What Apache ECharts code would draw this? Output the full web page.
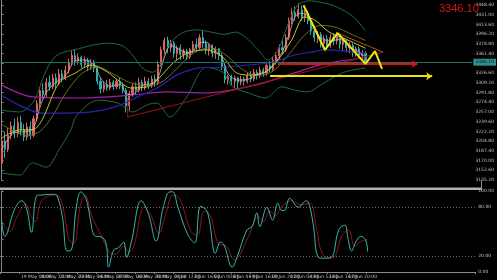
<!DOCTYPE html>
<html><head><meta charset="utf-8">
<script src="https://cdn.jsdelivr.net/npm/echarts@6/dist/echarts.min.js"></script>
<style>html,body{margin:0;padding:0;background:#000;}#c{width:497px;height:280px;}</style>
</head><body><div id="c"></div>
<script>
// ---------- DATA ----------
const slotCount = 148;               // bar slots on the time axis (incl. empty future space)
const lastPrice = 3346.10;
const priceAxis = { min: 3135.2, max: 3457.4, step: 17.4 };

// H4 candles: [open, close, low, high]
const candleOHLC = [
 [3165,3205,3160,3210],[3205,3190,3175,3222],[3190,3215,3185,3228],[3215,3232,3208,3240],
 [3232,3218,3210,3245],[3218,3238,3212,3248],[3238,3225,3215,3250],[3225,3212,3205,3235],
 [3212,3230,3206,3238],[3230,3215,3208,3240],[3215,3245,3212,3250],[3245,3272,3240,3278],
 [3272,3295,3265,3302],[3295,3288,3280,3308],[3288,3310,3284,3318],[3310,3302,3295,3322],
 [3302,3318,3298,3325],[3318,3308,3300,3326],[3308,3325,3305,3334],[3325,3318,3310,3332],
 [3318,3332,3314,3340],[3332,3345,3326,3352],[3345,3358,3340,3366],[3358,3348,3340,3368],
 [3348,3355,3342,3362],[3355,3342,3335,3358],[3342,3350,3336,3356],[3350,3338,3330,3354],
 [3338,3346,3332,3352],[3346,3335,3328,3350],[3335,3312,3306,3340],[3312,3298,3290,3318],
 [3298,3306,3292,3312],[3306,3300,3295,3314],[3300,3310,3296,3316],[3310,3302,3297,3314],
 [3302,3312,3298,3316],[3312,3305,3298,3318],[3305,3296,3290,3310],[3296,3268,3256,3300],
 [3268,3290,3260,3295],[3290,3302,3284,3308],[3302,3296,3288,3310],[3296,3310,3292,3318],
 [3310,3300,3294,3315],[3300,3312,3296,3320],[3312,3304,3298,3318],[3304,3316,3300,3322],
 [3316,3310,3302,3324],[3310,3342,3305,3348],[3342,3368,3338,3374],[3368,3385,3360,3390],
 [3385,3372,3362,3392],[3372,3380,3364,3386],[3380,3362,3354,3384],[3362,3372,3350,3376],
 [3372,3360,3350,3378],[3360,3366,3352,3370],[3366,3356,3350,3370],[3356,3368,3352,3372],
 [3368,3378,3362,3384],[3378,3372,3364,3388],[3372,3390,3368,3396],[3390,3380,3372,3404],
 [3380,3368,3360,3385],[3368,3376,3358,3380],[3376,3362,3355,3378],[3362,3370,3352,3374],
 [3370,3358,3350,3372],[3358,3338,3332,3362],[3338,3315,3308,3342],[3315,3320,3306,3324],
 [3320,3312,3305,3324],[3312,3318,3300,3322],[3318,3310,3298,3320],[3310,3316,3305,3322],
 [3316,3312,3304,3320],[3312,3322,3308,3328],[3322,3316,3310,3330],[3316,3328,3312,3334],
 [3328,3322,3315,3333],[3322,3332,3318,3338],[3332,3326,3320,3336],[3326,3340,3322,3346],
 [3340,3334,3328,3348],[3334,3350,3330,3356],[3350,3358,3342,3364],[3358,3372,3352,3378],
 [3372,3368,3360,3385],[3368,3390,3364,3396],[3390,3420,3386,3426],[3420,3435,3414,3442],
 [3435,3428,3420,3446],[3428,3440,3424,3452],[3440,3426,3420,3448],[3426,3434,3418,3440],
 [3434,3420,3414,3438],[3420,3402,3395,3424],[3402,3390,3382,3408],[3390,3396,3380,3402],
 [3396,3380,3372,3400],[3380,3388,3370,3394],[3388,3376,3368,3395],[3376,3390,3372,3396],
 [3390,3384,3376,3398],[3384,3392,3378,3400],[3392,3378,3370,3396],[3378,3384,3366,3390],
 [3384,3372,3364,3388],[3372,3376,3362,3382],[3376,3364,3356,3380],[3364,3370,3356,3374],
 [3370,3358,3352,3374],[3358,3362,3350,3368],[3362,3346.1,3342,3366]
];

const dayLabels = ["16 May 2025","19 May 08:00","20 May 12:00","21 May 20:00","23 May 04:00",
 "26 May 08:00","27 May 16:00","28 May 20:00","30 May 04:00","2 Jun 12:00","3 Jun 16:00",
 "5 Jun 00:00","6 Jun 08:00","9 Jun 16:00","10 Jun 20:00","12 Jun 04:00","13 Jun 12:00",
 "16 Jun 16:00","17 Jun 20:00","19 Jun 08:00"];

// indicator readings: [bar index, value]
const maFast = [[0,3190],[4,3220],[8,3222],[10,3228],[12,3265],[14,3292],[17,3310],[20,3322],[23,3348],
 [26,3350],[29,3342],[31,3318],[34,3303],[37,3306],[39,3290],[41,3288],[44,3304],[47,3308],[49,3318],
 [51,3355],[53,3376],[56,3368],[59,3362],[62,3380],[64,3382],[67,3366],[69,3355],[71,3325],[74,3314],
 [77,3315],[80,3324],[83,3330],[86,3348],[88,3365],[90,3395],[92,3428],[94,3434],[96,3428],[98,3405],
 [100,3390],[103,3384],[106,3387],[109,3374],[112,3364],[114,3355]];
const maYellow = [[0,3210],[5.7,3225],[9.7,3225],[12.7,3243],[18,3309],[23.2,3327],[28.1,3341],
 [33.3,3328],[36.4,3314],[40.4,3300],[45.7,3302],[48.7,3314],[54,3346],[58.9,3364],[64.1,3368],
 [69.3,3355],[73.3,3328],[77.3,3323],[82.6,3328],[86.6,3350],[90.9,3386],[94.9,3427],[98,3422],
 [102.6,3400],[107.2,3389],[114,3371]];
const bbMid = [[0,3235],[8,3215],[12,3222],[16,3250],[20,3290],[25,3325],[30,3338],[35,3325],[40,3310],
 [45,3305],[50,3310],[55,3335],[60,3362],[65,3372],[70,3360],[75,3335],[80,3322],[85,3330],[90,3360],
 [95,3395],[100,3412],[105,3408],[110,3395],[114,3385]];
const bbUpper = [[0,3260],[5.7,3257],[10.3,3278],[13.3,3323],[16.4,3354],[19.5,3364],[24.1,3370],
 [28.7,3377],[33.3,3380],[38,3375],[41,3359],[44.1,3336],[47.2,3328],[50.3,3346],[52.4,3377],
 [56.4,3398],[61,3404],[65.7,3400],[69.7,3396],[73.3,3400],[76.4,3391],[80.4,3368],[83.5,3350],
 [86.6,3368],[89.7,3413],[92.7,3448],[96.4,3456],[101,3452],[105,3445],[110.3,3427],[114,3402]];
const bbLower = [[0,3148],[5.7,3144],[9.7,3166],[14,3158],[18,3189],[21.7,3225],[23.2,3248],
 [27.2,3271],[30.3,3278],[36.4,3273],[41,3257],[45.7,3270],[48.7,3273],[52.7,3248],[58,3284],
 [64.1,3337],[69.3,3328],[72.4,3302],[77.3,3291],[82.6,3282],[87.8,3302],[91.8,3296],[95.8,3293],
 [101,3309],[107.2,3328],[114,3336]];
const maBlue = [[0,3287],[12.7,3255],[20.1,3255],[28.1,3257],[35.5,3266],[42.6,3284],[48.7,3300],
 [54.9,3323],[62,3336],[69.3,3337],[77.3,3341],[84.7,3346],[91.8,3359],[97,3364],[101,3368],[114,3362]];
const maPurple = [[0,3305],[9.7,3284],[25,3282],[40.4,3287],[51.8,3293],[64.1,3291],[79.5,3305],
 [91.8,3327],[101,3343],[114,3354]];
const redTrend = [[39.5,3283],[39.5,3248],[119.5,3364]];
const wedgeTop = [[105.3,3398],[119.5,3364]];
const zigzag = [[94.6,3448],[101.3,3368],[105.3,3398],[114,3343],[117,3366],[119.2,3334]];
const redArrow = [[86.6,3342.8],[130.3,3342.8]];
const yellowArrow = [[84.1,3321],[134.9,3321]];

// stochastic oscillator readings
const stochK = [[0,64],[1,44],[4.1,78],[6.3,88],[7.8,78],[9.3,49],[10.9,94],[12.4,95],[16.4,96],
 [17.3,94],[18.9,69],[20.4,26],[21.7,27],[23.2,78],[24.7,99],[26.3,90],[29.3,44],[30.3,44],[32.4,37],
 [33.3,6],[34.9,27],[36.4,30],[38,37],[38.9,18],[40.4,37],[43.5,88],[45.7,72],[48.1,38],[50.3,79],
 [52.4,99],[53.3,99],[54.9,80],[58,46],[60.1,36],[62,81],[64.1,74],[66.6,23],[68.1,37],[69.3,33],
 [71.8,6],[73.3,18],[76.4,52],[78,56],[79.5,73],[80.4,56],[82.6,80],[84.4,64],[86,85],[87.2,76],
 [88.1,76],[89.7,91],[92.4,80],[94.9,88],[95.8,83],[97,60],[98.6,18],[100.1,17],[102.6,18],[105,52],
 [106.9,58],[107.8,43],[109,26],[110.3,37],[111.8,44],[113.3,40],[114,25]];
const stochD = [[0.5,60],[2.5,50],[5,70],[7.5,84],[9,70],[10.5,62],[12.5,88],[17,95],[19,82],[21,40],
 [22.5,35],[24.5,82],[26,95],[28,70],[31,45],[33.5,25],[35.5,22],[38,32],[39.5,25],[41,30],[44.5,80],
 [46.5,70],[49,48],[51,70],[53.5,95],[55.5,90],[59,50],[61,45],[63,75],[65,70],[67.5,35],[70,32],
 [72.5,15],[74,20],[77,45],[80,68],[81.5,62],[83.5,75],[85.5,70],[87,80],[90.5,88],[93,83],[96,85],
 [98,55],[100,22],[103,17],[106,45],[108,52],[110,32],[112,38],[114,40]];
const stochLevels = [80, 20];

// ---------- CHART ----------
const slots = Array.from({length: slotCount}, (_, i) => String(i));
const lastLabelSlot = (dayLabels.length - 1) * 6;
const chart = echarts.init(document.getElementById('c'), null, {renderer: 'canvas'});
const axisGray = '#8a8a8a';
const txt = {color: '#c0c0c0', fontSize: 4.5, fontFamily: 'DejaVu Sans'};
function ln(data, color, width, xi, yi) {
  return {type: 'line', data, xAxisIndex: xi === undefined ? 1 : xi, yAxisIndex: yi || 0,
    symbol: 'none', smooth: 0.3, silent: true,
    lineStyle: {color, width: width || 1}, z: 3};
}
const option = {
  backgroundColor: '#000',
  animation: false,
  grid: [
    {left: 0, right: 16, top: 0, height: 180},
    {left: 0, right: 16, top: 191, height: 81}
  ],
  xAxis: [
    {type: 'category', gridIndex: 0, data: slots, boundaryGap: true, show: false},
    {type: 'value', gridIndex: 0, min: -0.5, max: slotCount - 0.5, show: false},
    {type: 'category', gridIndex: 1, data: slots, boundaryGap: true,
      axisLine: {lineStyle: {color: axisGray, width: 1}},
      axisTick: {show: true, length: 2, interval: (i) => i % 6 === 0 && i <= lastLabelSlot, lineStyle: {color: axisGray}},
      axisLabel: Object.assign({}, txt, {margin: 2, align: 'left',
        interval: (i) => i % 6 === 0 && i <= lastLabelSlot,
        formatter: (v, i) => (i % 6 === 0 && i <= lastLabelSlot) ? dayLabels[i / 6] : ''}),
      splitLine: {show: false}},
    {type: 'value', gridIndex: 1, min: -0.5, max: slotCount - 0.5, show: false}
  ],
  yAxis: [
    {type: 'value', gridIndex: 0, position: 'right', min: priceAxis.min, max: priceAxis.max,
      interval: priceAxis.step,
      axisLine: {show: true, lineStyle: {color: axisGray}},
      axisTick: {show: true, length: 2, lineStyle: {color: axisGray}},
      axisLabel: Object.assign({}, txt, {margin: 3, showMaxLabel: false, formatter: (v) => v.toFixed(2)}),
      splitLine: {show: false}},
    {type: 'value', gridIndex: 1, position: 'right', min: 0, max: 100, interval: 20,
      axisLine: {show: true, lineStyle: {color: axisGray}},
      axisTick: {show: true, length: 2, lineStyle: {color: axisGray}},
      axisLabel: Object.assign({}, txt, {margin: 3,
        formatter: (v) => (v === 0 || v === 20 || v === 80 || v === 100) ? v.toFixed(2) : ''}),
      splitLine: {show: false}}
  ],
  series: [
    {type: 'candlestick', xAxisIndex: 0, yAxisIndex: 0, data: candleOHLC, barWidth: 1.6, z: 2,
      itemStyle: {color: '#e0605c', color0: '#2aaeae', borderColor: '#e0605c', borderColor0: '#2aaeae', borderWidth: 1},
      markLine: {silent: true, symbol: 'none', animation: false,
        lineStyle: {color: '#1f6e6e', width: 1, type: 'solid'},
        label: {show: true, position: 'end', distance: 1, formatter: lastPrice.toFixed(2),
          color: '#0a1a1a', backgroundColor: '#2e9090', fontSize: 4.5, padding: [1, 2, 1, 2], fontFamily: 'DejaVu Sans'},
        data: [{yAxis: lastPrice}]}},
    ln(bbUpper, '#1f6a46', 1),
    ln(bbLower, '#1f6a46', 1),
    ln(bbMid, '#6e6e22', 1),
    ln(maPurple, '#a11ea8', 1.2),
    ln(maBlue, '#2424b4', 1.2),
    ln(maYellow, '#c9c51e', 1),
    ln(maFast, '#b8b8b8', 0.8),
    Object.assign(ln(redTrend, '#9c1414', 1), {smooth: false}),
    Object.assign(ln(wedgeTop, '#a8561a', 1), {smooth: false}),
    Object.assign(ln(zigzag, '#eaea10', 2), {smooth: false, z: 5,
      markLine: {silent: true, symbol: ['none', 'arrow'], symbolSize: 6, label: {show: false}, animation: false,
        data: [
          [{coord: redArrow[0], lineStyle: {color: '#e01010', width: 2, type: 'solid'}}, {coord: redArrow[1]}],
          [{coord: yellowArrow[0], lineStyle: {color: '#e4e414', width: 2, type: 'solid'}}, {coord: yellowArrow[1]}]
        ]}}),
    Object.assign(ln(stochD, '#8e1616', 1, 3, 1), {smooth: 0.4}),
    Object.assign(ln(stochK, '#36b8b0', 1, 3, 1), {smooth: 0.4,
      markLine: {silent: true, symbol: 'none', label: {show: false}, animation: false,
        lineStyle: {color: '#6a6a6a', width: 1, type: [1, 2]},
        data: stochLevels.map(v => ({yAxis: v}))}}),
    {type: 'bar', xAxisIndex: 2, yAxisIndex: 1, data: []}
  ],
  graphic: [
    {type: 'rect', shape: {x: 0, y: 187.5, width: 481, height: 2.5}, style: {fill: '#b0b0b0'}, silent: true},
    {type: 'line', shape: {x1: 481.5, y1: 180, x2: 481.5, y2: 191}, style: {stroke: axisGray, lineWidth: 1}, silent: true},
    {type: 'text', x: 439, y: 3, silent: true, z: 10,
      style: {text: lastPrice.toFixed(2), fill: '#d01818', fontSize: 11, fontFamily: 'Liberation Sans',
        align: 'left', verticalAlign: 'top'}}
  ]
};
chart.setOption(option);
</script>
</body></html>
